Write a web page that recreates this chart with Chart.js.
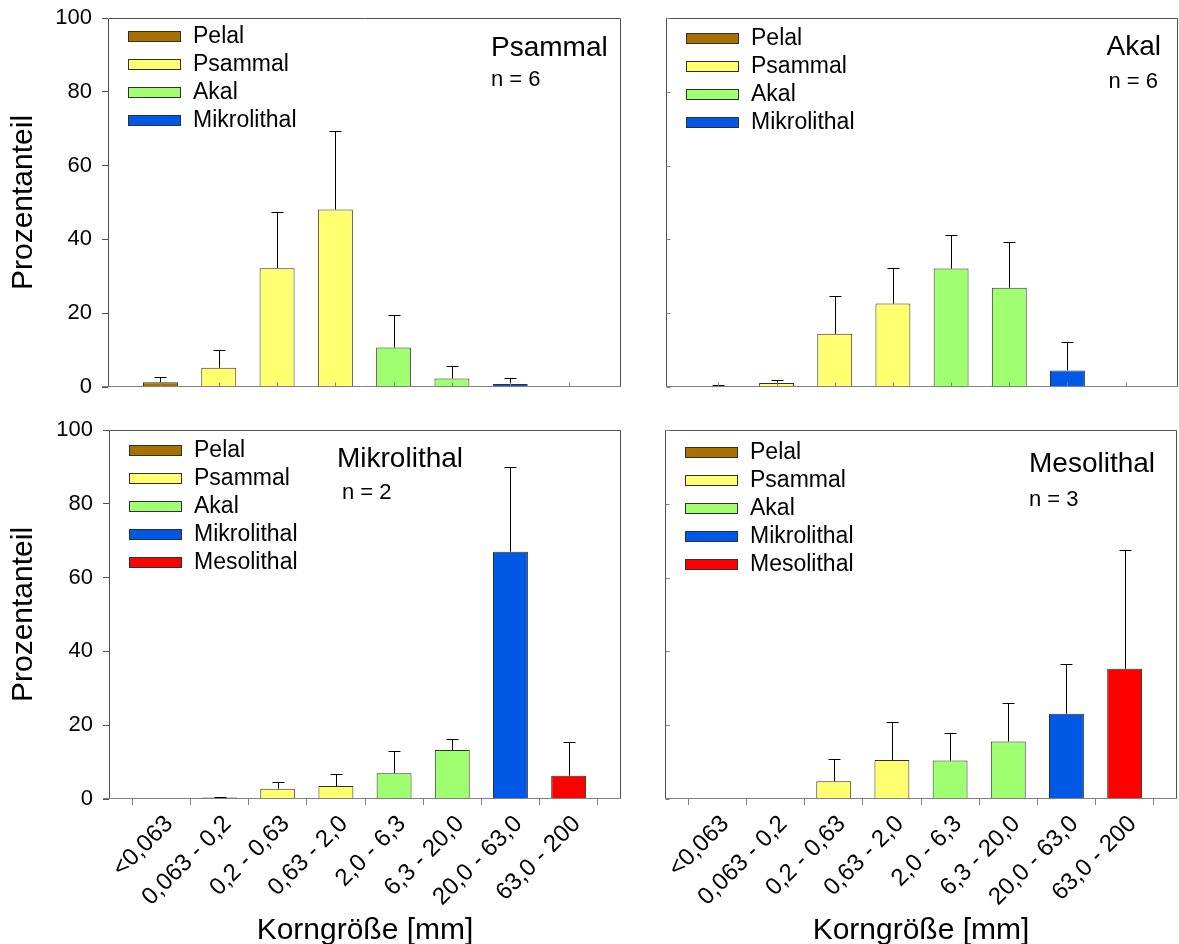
<!DOCTYPE html>
<html lang="de">
<head>
<meta charset="UTF-8">
<title>Korngrößenverteilung</title>
<script src="https://cdn.jsdelivr.net/npm/chart.js@4"></script>
<style>
  body { margin: 0; background: #fff; }
  #wrap { position: relative; width: 1179px; height: 944px; overflow: hidden; }
  .panel { position: absolute; }
  .panel canvas { display: block; }
</style>
</head>
<body>
<div id="wrap">
  <div class="panel" style="left:0;top:-12px"><canvas id="c-psammal" width="640" height="430"></canvas></div>
  <div class="panel" style="left:640px;top:-12px"><canvas id="c-akal" width="539" height="430"></canvas></div>
  <div class="panel" style="left:0;top:400px"><canvas id="c-mikro" width="640" height="549"></canvas></div>
  <div class="panel" style="left:620px;top:400px"><canvas id="c-meso" width="559" height="549"></canvas></div>
</div>

<script>
// Korngrößenklassen (x-Achse)
const sizeClasses = ['<0,063', '0,063 - 0,2', '0,2 - 0,63', '0,63 - 2,0', '2,0 - 6,3', '6,3 - 20,0', '20,0 - 63,0', '63,0 - 200'];
const habitats = ['Pelal', 'Psammal', 'Akal', 'Mikrolithal', 'Mesolithal'];
// welches Habitat zu welcher Korngröße gehört
const habitatOfClass = [0, 1, 1, 1, 2, 2, 3, 4];
const yTicks = [0, 20, 40, 60, 80, 100];

// Mittelwerte und Standardabweichungen (%)
const psammalMean = [1.3, 5.2, 32.2, 48.1, 10.7, 2.3, 0.8, 0];
const psammalSd   = [1.4, 4.9, 15.1, 21.4, 8.7, 3.3, 1.7, 0];
const akalMean    = [0.3, 1.1, 14.4, 22.6, 32.1, 26.9, 4.5, 0];
const akalSd      = [0.2, 0.9, 10.2, 9.7, 9.2, 12.3, 7.6, 0];
const mikroMean   = [0.1, 0.4, 2.8, 3.5, 7.0, 13.3, 67.0, 6.3];
const mikroSd     = [0.05, 0.2, 1.7, 3.2, 5.9, 2.9, 23.1, 9.1];
const mesoMean    = [0.1, 0.15, 4.8, 10.6, 10.4, 15.6, 23.1, 35.3];
const mesoSd      = [0.05, 0.15, 6.1, 10.3, 7.5, 10.3, 13.4, 32.1];

const habitatColors = ['#a87000', '#ffff70', '#a0ff70', '#0058e6', '#ff0000'];
const FONT = "'Liberation Sans', Arial, sans-serif";

Chart.defaults.font.family = FONT;
Chart.defaults.color = '#000';
Chart.defaults.animation = false;

const panels = [
  { id: 'c-psammal', title: 'Psammal', n: 'n = 6', mean: psammalMean, sd: psammalSd, legendCount: 4,
    pad: { left: 0, top: 30, right: 19, bottom: 0 }, yWidth: 108, xHeight: 31, leftAxis: true, bottomAxis: false,
    legendTop: 18, titleX: 383, titleY: 30, nX: 383, nY: 62, align: 'left' },
  { id: 'c-akal', title: 'Akal', n: 'n = 6', mean: akalMean, sd: akalSd, legendCount: 4,
    pad: { left: 0, top: 30, right: 1, bottom: 0 }, yWidth: 26, xHeight: 31, leftAxis: false, bottomAxis: false,
    legendTop: 20, titleX: -17, titleY: 29, nX: -20, nY: 64, align: 'right' },
  { id: 'c-mikro', title: 'Mikrolithal', n: 'n = 2', mean: mikroMean, sd: mikroSd, legendCount: 5,
    pad: { left: 0, top: 30, right: 19, bottom: 0 }, yWidth: 109, xHeight: 150, leftAxis: true, bottomAxis: true,
    legendTop: 20, titleX: 228, titleY: 29, nX: 233, nY: 63, align: 'left' },
  { id: 'c-meso', title: 'Mesolithal', n: 'n = 3', mean: mesoMean, sd: mesoSd, legendCount: 5,
    pad: { left: 0, top: 30, right: 2, bottom: 0 }, yWidth: 45, xHeight: 150, leftAxis: false, bottomAxis: true,
    legendTop: 22, titleX: 364, titleY: 34, nX: 364, nY: 70, align: 'left' }
];

// Rahmen, Fehlerbalken, Legende und Beschriftung im Plotbereich
function decorPlugin(p) {
  return {
    id: 'decor',
    afterDatasetsDraw(chart) {
      const { ctx, chartArea: a, scales: { x, y } } = chart;
      ctx.save();

      // Fehlerbalken (nur nach oben)
      ctx.strokeStyle = '#000';
      ctx.lineWidth = 1;
      p.mean.forEach((m, i) => {
        const sd = p.sd[i];
        if (!sd) return;
        const px = Math.round(x.getPixelForValue(i)) + 0.5;
        const y0 = y.getPixelForValue(m);
        const y1 = Math.round(y.getPixelForValue(m + sd)) + 0.5;
        ctx.beginPath();
        ctx.moveTo(px, y0);
        ctx.lineTo(px, y1);
        ctx.moveTo(px - 6, y1);
        ctx.lineTo(px + 6, y1);
        ctx.stroke();
      });

      // Rahmen
      const l = a.left + 0.5, t = a.top + 0.5, r = a.right - 0.5, b = a.bottom - 0.5;
      ctx.strokeStyle = '#505050';
      ctx.beginPath();
      ctx.moveTo(l, b); ctx.lineTo(l, t); ctx.lineTo(r, t); ctx.lineTo(r, b);
      ctx.stroke();
      ctx.strokeStyle = '#808080';
      ctx.beginPath();
      ctx.moveTo(a.left - (p.leftAxis ? 6 : 0), b); ctx.lineTo(a.right, b);
      ctx.stroke();

      // kleine Innenticks
      ctx.strokeStyle = '#808080';
      ctx.beginPath();
      if (!p.bottomAxis) {
        sizeClasses.forEach((_, i) => {
          const px = Math.round(x.getPixelForValue(i)) + 0.5;
          ctx.moveTo(px, b); ctx.lineTo(px, b - 4);
        });
      }
      if (!p.leftAxis) {
        yTicks.forEach(v => {
          const py = Math.round(y.getPixelForValue(v)) + 0.5;
          ctx.moveTo(l, py); ctx.lineTo(l + 4, py);
        });
      }
      ctx.stroke();

      // Legende
      ctx.font = '23px ' + FONT;
      ctx.textBaseline = 'middle';
      ctx.textAlign = 'left';
      chart.data.datasets.forEach((ds, k) => {
        const cy = a.top + p.legendTop + k * 28;
        const bx = a.left + 20;
        ctx.fillStyle = ds.backgroundColor;
        ctx.fillRect(bx, cy - 5, 52, 10);
        ctx.strokeStyle = '#303030';
        ctx.strokeRect(bx + 0.5, cy - 5 + 0.5, 52, 10);
        ctx.fillStyle = '#000';
        ctx.fillText(ds.label, bx + 65, cy + 1);
      });

      // Titel und n
      ctx.textAlign = p.align;
      const ax = v => (p.align === 'right' ? a.right + v : a.left + v);
      ctx.font = '28px ' + FONT;
      ctx.fillText(p.title, ax(p.titleX), a.top + p.titleY);
      ctx.font = '22px ' + FONT;
      ctx.fillText(p.n, ax(p.nX), a.top + p.nY);

      ctx.restore();
    }
  };
}

function buildPanel(p) {
  const datasets = habitats.slice(0, p.legendCount).map((name, h) => ({
    label: name,
    data: sizeClasses.map((_, i) => i)
      .filter(i => habitatOfClass[i] === h)
      .map(i => ({ x: i, y: p.mean[i] })),
    backgroundColor: habitatColors[h],
    borderColor: '#303030',
    borderWidth: 1,
    barPercentage: 0.6,
    categoryPercentage: 1,
    grouped: false
  }));

  new Chart(document.getElementById(p.id), {
    type: 'bar',
    data: { datasets },
    options: {
      responsive: false,
      layout: { padding: p.pad, autoPadding: false },
      plugins: { legend: { display: false }, tooltip: { enabled: false } },
      scales: {
        x: {
          type: 'linear',
          min: -0.9,
          max: 7.9,
          offset: false,
          afterBuildTicks: s => { s.ticks = sizeClasses.map((_, i) => ({ value: i })); },
          afterFit: s => { s.height = p.xHeight; },
          border: { display: false },
          grid: { drawOnChartArea: false, drawTicks: p.bottomAxis, tickLength: 6, color: '#808080' },
          ticks: {
            display: p.bottomAxis,
            autoSkip: false,
            minRotation: 45,
            maxRotation: 45,
            padding: 5,
            labelOffset: 8,
            font: { size: 24 },
            callback: v => sizeClasses[v]
          },
          title: { display: p.bottomAxis, text: 'Korngröße [mm]', font: { size: 30 }, padding: 0 }
        },
        y: {
          min: 0,
          max: 100,
          afterBuildTicks: s => { s.ticks = yTicks.map(v => ({ value: v })); },
          afterFit: s => { s.width = p.yWidth; },
          border: { display: false },
          grid: { drawOnChartArea: false, drawTicks: p.leftAxis, tickLength: 6, color: '#505050' },
          ticks: { display: p.leftAxis, padding: 10, font: { size: 22 } },
          title: { display: p.leftAxis, text: 'Prozentanteil', font: { size: 30 }, padding: { top: 6, bottom: 0 } }
        }
      }
    },
    plugins: [decorPlugin(p)]
  });
}

panels.forEach(buildPanel);
</script>
</body>
</html>
